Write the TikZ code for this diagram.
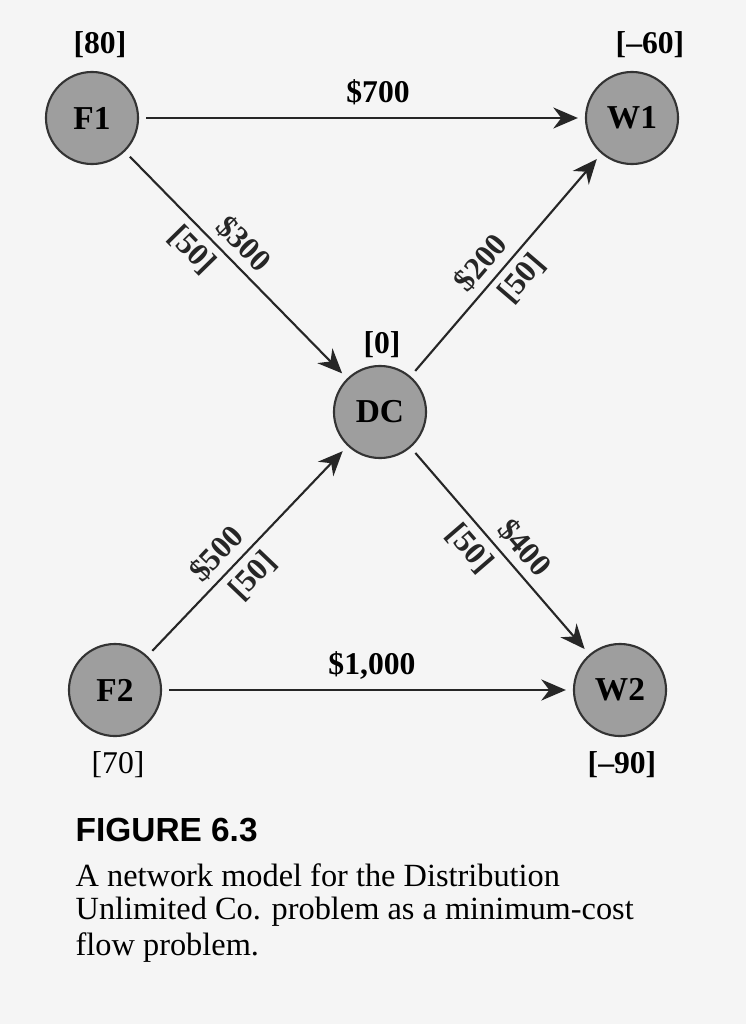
\documentclass[tikz,border=0pt]{standalone}
\usepackage{fontspec}
\setmainfont{Liberation Serif}
\newfontfamily\capsans{Liberation Sans}
\usetikzlibrary{arrows.meta}
\begin{document}
\begin{tikzpicture}[x=0.01cm,y=-0.01cm,
  netnode/.style={circle,draw=black!80,line width=0.6pt,fill=black!38,minimum size=0.92cm,inner sep=0pt,font=\fontsize{9.5}{11}\selectfont\bfseries},
  lbl/.style={font=\fontsize{9}{11}\selectfont\bfseries,inner sep=1pt},
  elbl/.style={lbl,sloped,inner sep=2pt},
  arc/.style={-{Stealth[length=7pt,width=6pt]},line width=0.6pt,black!85,shorten <=2pt,shorten >=2pt},
  captxt/.style={font=\fontsize{9.2}{11}\selectfont,anchor=west,inner sep=0pt}]
\fill[black!4] (0,0) rectangle (746,1024);
\useasboundingbox (0,0) rectangle (746,1024);
\node[netnode] (F1) at (92,118) {F1};
\node[netnode] (W1) at (632,118) {W1};
\node[netnode] (DC) at (380,412) {DC};
\node[netnode] (F2) at (115,690) {F2};
\node[netnode] (W2) at (620,690) {W2};
\draw[arc] (F1) -- (W1);
\draw[arc] (F1) -- node[elbl,above,pos=0.47] (c300) {\$300} node[elbl,below,pos=0.37] (u1) {[50]} (DC);
\draw[arc] (DC) -- node[elbl,above,pos=0.45] (c200) {\$200} node[elbl,below,pos=0.5] (u2) {[50]} (W1);
\draw[arc] (F2) -- node[elbl,above,pos=0.42] (c500) {\$500} node[elbl,below,pos=0.45] (u3) {[50]} (DC);
\draw[arc] (DC) -- node[elbl,above,pos=0.55] (c400) {\$400} node[elbl,below,pos=0.42] (u4) {[50]} (W2);
\draw[arc] (F2) -- (W2);
\node[lbl] (s80) at (100,45) {[80]};
\node[lbl] (s60) at (650,45) {[–60]};
\node[lbl] (c700) at (378,92) {\$700};
\node[lbl] (s0) at (382,345) {[0]};
\node[lbl] (c1000) at (372,665) {\$1,000};
\node[lbl,font=\fontsize{9}{11}\selectfont] (s70) at (118,765) {[70]};
\node[lbl] (s90) at (622,765) {[–90]};
\node[captxt,font=\capsans\fontsize{9.5}{11}\selectfont\bfseries] (fig) at (75,830) {FIGURE 6.3};
\node[captxt] (l1) at (75,875) {A network model for the Distribution};
\node[captxt] (l2) at (75,912) {Unlimited Co. problem as a minimum-cost};
\node[captxt] (l3) at (75,948) {flow problem.};
\end{tikzpicture}
\end{document}
